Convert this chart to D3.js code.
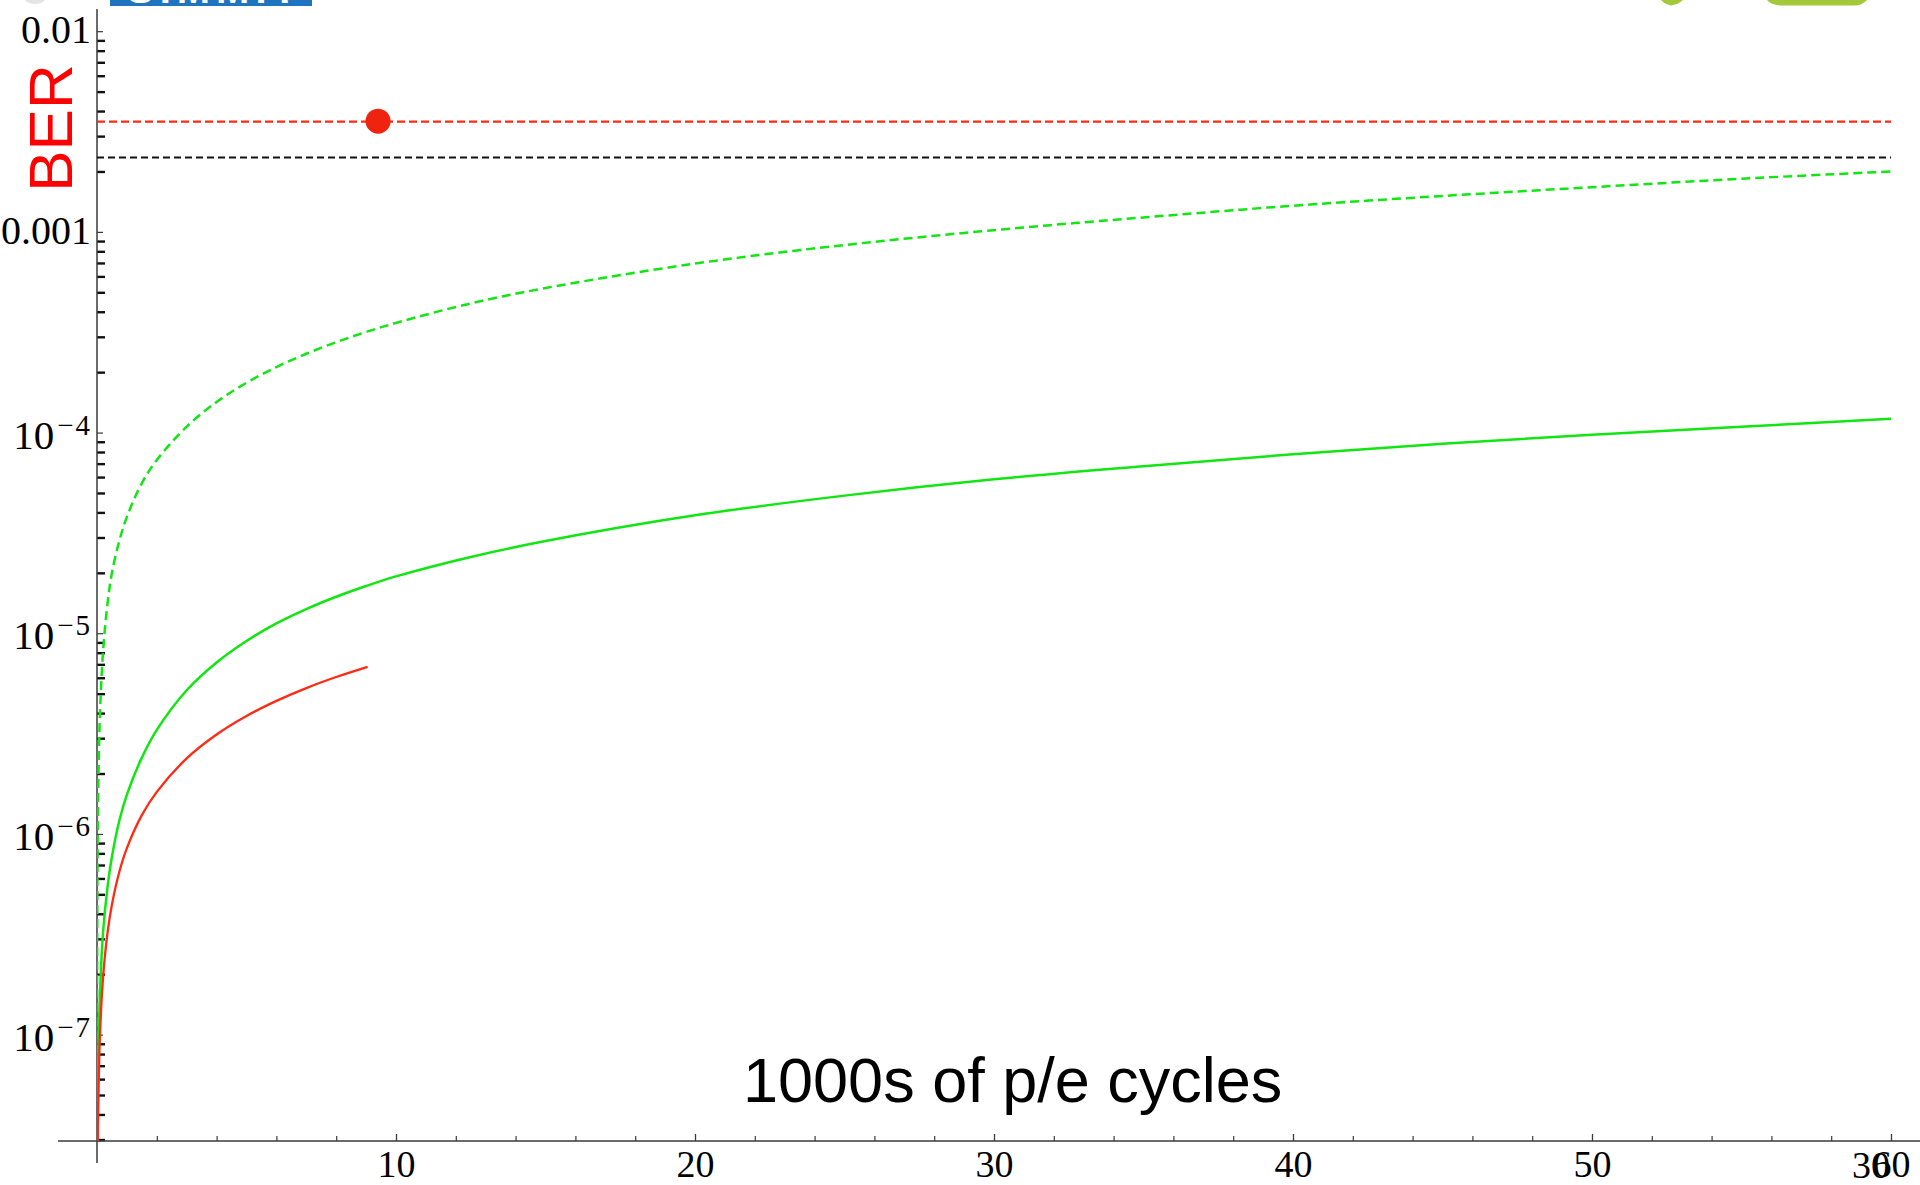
<!DOCTYPE html>
<html>
<head>
<meta charset="utf-8">
<script src="https://cdn.jsdelivr.net/npm/d3@7"></script>
<style>
  html, body { margin: 0; padding: 0; background: #fff; }
  svg { display: block; }
</style>
</head>
<body>
<svg id="chart" width="1920" height="1185"></svg>
<script>
// Sample positions along the p/e-cycle axis (thousands of cycles)
const cycles = [0.002, 0.005, 0.01, 0.02, 0.05, 0.1, 0.2, 0.35, 0.5, 0.75, 1, 1.5, 2, 3, 4, 5, 6, 7, 8, 9, 10,
                12.5, 15, 20, 25, 30, 35, 40, 45, 50, 55, 60];

// Upper green (dashed) BER curve
const berGreenDashed = [8e-8, 2e-7, 4e-7, 8e-7, 2e-6, 4e-6, 8e-6, 1.4e-5, 2.0e-5, 2.9e-5, 3.8e-5, 5.6e-5, 7.3e-5,
                        1.07e-4, 1.42e-4, 1.77e-4, 2.12e-4, 2.47e-4, 2.82e-4, 3.17e-4, 3.52e-4,
                        4.4e-4, 5.25e-4, 6.95e-4, 8.6e-4, 1.02e-3, 1.18e-3, 1.35e-3, 1.51e-3, 1.67e-3, 1.84e-3, 2.0e-3];

// Lower green (solid) BER curve
const berGreenSolid = [4e-9, 1e-8, 2e-8, 3.6e-8, 8.5e-8, 1.6e-7, 3.2e-7, 5.4e-7, 7.7e-7, 1.17e-6, 1.57e-6, 2.4e-6, 3.3e-6,
                       5.2e-6, 7.15e-6, 9.15e-6, 1.12e-5, 1.32e-5, 1.52e-5, 1.72e-5, 1.92e-5,
                       2.4e-5, 2.88e-5, 3.87e-5, 4.85e-5, 5.85e-5, 6.8e-5, 7.8e-5, 8.8e-5, 9.75e-5, 1.07e-4, 1.17e-4];

// Red (solid) BER curve, measured only up to ~9k cycles
const redCycles = [0.002, 0.005, 0.01, 0.02, 0.05, 0.1, 0.2, 0.35, 0.5, 0.75, 1, 1.5, 2, 3, 4, 5, 6, 7, 8, 9.05];
const berRed = [2.5e-9, 6e-9, 1.15e-8, 2.2e-8, 5.2e-8, 1.0e-7, 1.9e-7, 3.2e-7, 4.45e-7, 6.5e-7, 8.5e-7, 1.24e-6, 1.62e-6,
                2.38e-6, 3.13e-6, 3.87e-6, 4.6e-6, 5.33e-6, 6.05e-6, 6.8e-6];

// Horizontal BER limits and the marked point
const redLimit = 3.54e-3;
const blackLimit = 2.35e-3;
const markedPoint = [9.4, 3.56e-3];

// Axis ticks
const xMajorTicks = [10, 20, 30, 40, 50, 60];
const xMinorTicks = [2, 4, 6, 8, 12, 14, 16, 18, 22, 24, 26, 28, 32, 34, 36, 38, 42, 44, 46, 48, 52, 54, 56, 58];
const yDecades = [-2, -3, -4, -5, -6, -7];
const yPlainLabels = { "-2": "0.01", "-3": "0.001" };

const svg = d3.select("#chart");
const W = 1920;

const x = d3.scaleLinear().domain([0, 60]).range([97, 1891]);
const y = d3.scaleLog().domain([2.95e-8, 0.0129]).range([1141, 9]);

const GREEN = "#12e612";
const RED = "#ff2a14";

// --- slide decorations cut off at the top edge ---
const deco = svg.append("g");
deco.append("ellipse").attr("cx", 35).attr("cy", -3).attr("rx", 11).attr("ry", 7)
  .attr("fill", "#d8d8d8").attr("opacity", 0.7);
deco.append("clipPath").attr("id", "logoClip")
  .append("rect").attr("x", 110).attr("y", 0).attr("width", 202).attr("height", 6);
deco.append("rect").attr("x", 110).attr("y", 0).attr("width", 202).attr("height", 6).attr("fill", "#1f74bf");
deco.append("text").attr("clip-path", "url(#logoClip)")
  .attr("x", 127).attr("y", 2.5)
  .attr("font-family", "Liberation Sans, Arial, sans-serif").attr("font-weight", "bold")
  .attr("font-size", 40).attr("letter-spacing", 6).attr("fill", "#ffffff")
  .text("SIMMIT");
deco.append("path").attr("fill", "#a3c93a")
  .attr("d", "M1661,0 L1683,0 Q1678,4.5 1671,5.5 Q1664,4 1661,0 Z");
deco.append("path").attr("fill", "#a3c93a")
  .attr("d", "M1767,0 L1867,0 Q1862,5.5 1854,5.5 L1781,5.5 Q1771,5 1767,0 Z");

// --- axes ---
const axisColor = "#3a3a3a";

// x ticks (pointing up into the plot)
const xAxisMajor = svg.append("g").attr("transform", "translate(0,1141)")
  .call(d3.axisBottom(x).tickValues(xMajorTicks).tickSize(-7).tickPadding(0));
xAxisMajor.select(".domain").remove();
xAxisMajor.selectAll("line").attr("stroke", axisColor).attr("stroke-width", 1.3);
xAxisMajor.selectAll("text")
  .attr("y", 36).attr("dy", null)
  .attr("font-family", "Liberation Serif, Times New Roman, serif")
  .attr("font-size", 38).attr("fill", "#000");

const xAxisMinor = svg.append("g").attr("transform", "translate(0,1141)")
  .call(d3.axisBottom(x).tickValues(xMinorTicks).tickSize(-5).tickFormat(""));
xAxisMinor.select(".domain").remove();
xAxisMinor.selectAll("line").attr("stroke", axisColor).attr("stroke-width", 1.2);

// y ticks (pointing right into the plot)
const yMinorValues = [];
for (let e = -8; e <= -2; e++) {
  for (let k = 2; k <= 9; k++) {
    const v = k * Math.pow(10, e);
    if (v >= y.domain()[0] && v <= y.domain()[1]) yMinorValues.push(v);
  }
}
const yMajorValues = yDecades.map(e => Math.pow(10, e));

const yAxisMinor = svg.append("g").attr("transform", "translate(97,0)")
  .call(d3.axisLeft(y).tickValues(yMinorValues).tickSize(-8).tickFormat(""));
yAxisMinor.select(".domain").remove();
yAxisMinor.selectAll("line").attr("stroke", "#111").attr("stroke-width", 2.4);

const yAxisMajor = svg.append("g").attr("transform", "translate(97,0)")
  .call(d3.axisLeft(y).tickValues(yMajorValues).tickSize(-6).tickFormat(""));
yAxisMajor.select(".domain").remove();
yAxisMajor.selectAll("line").attr("stroke", axisColor).attr("stroke-width", 1.2);

// y tick labels: decimals for the top two decades, powers of ten below
const yLabels = svg.append("g")
  .attr("font-family", "Liberation Serif, Times New Roman, serif")
  .attr("fill", "#000").attr("text-anchor", "end");
yDecades.forEach(e => {
  const ty = y(Math.pow(10, e));
  if (yPlainLabels[e] !== undefined) {
    yLabels.append("text").attr("x", 91).attr("y", ty + 12)
      .attr("font-size", 40).text(yPlainLabels[e]);
  } else {
    const t = yLabels.append("text").attr("x", 92).attr("y", ty + 16).attr("font-size", 41);
    t.append("tspan").text("10");
    t.append("tspan").attr("font-size", 29).attr("dx", 3).attr("dy", -14)
      .attr("letter-spacing", 2).text("\u2212" + (-e));
  }
});

// axis lines
svg.append("line").attr("x1", 58).attr("x2", W).attr("y1", 1141).attr("y2", 1141)
  .attr("stroke", axisColor).attr("stroke-width", 1.5);
svg.append("line").attr("x1", 97).attr("x2", 97).attr("y1", 9).attr("y2", 1163)
  .attr("stroke", axisColor).attr("stroke-width", 1.5);

// --- data ---
svg.append("clipPath").attr("id", "plotClip")
  .append("rect").attr("x", 97).attr("y", 0).attr("width", 1800).attr("height", 1141);
const plot = svg.append("g").attr("clip-path", "url(#plotClip)");

const line = d3.line().x(d => x(d[0])).y(d => y(d[1])).curve(d3.curveCatmullRom.alpha(0.5));

// limits
plot.append("path").datum([[0, blackLimit], [60, blackLimit]])
  .attr("d", line).attr("fill", "none").attr("stroke", "#111")
  .attr("stroke-width", 2).attr("stroke-dasharray", "7,4");
plot.append("path").datum([[0, redLimit], [60, redLimit]])
  .attr("d", line).attr("fill", "none").attr("stroke", RED)
  .attr("stroke-width", 2.2).attr("stroke-dasharray", "8,4");

// curves
plot.append("path").datum(cycles.map((c, i) => [c, berGreenDashed[i]]))
  .attr("d", line).attr("fill", "none").attr("stroke", GREEN)
  .attr("stroke-width", 2.5).attr("stroke-dasharray", "9,5");
plot.append("path").datum(cycles.map((c, i) => [c, berGreenSolid[i]]))
  .attr("d", line).attr("fill", "none").attr("stroke", GREEN).attr("stroke-width", 2.5);
plot.append("path").datum(redCycles.map((c, i) => [c, berRed[i]]))
  .attr("d", line).attr("fill", "none").attr("stroke", RED).attr("stroke-width", 2.3);

// marked point on the red limit
svg.append("circle").attr("cx", x(markedPoint[0])).attr("cy", y(markedPoint[1]))
  .attr("r", 12.5).attr("fill", "#ef2410");

// --- titles ---
svg.append("text").attr("transform", "translate(72,128) rotate(-90)")
  .attr("text-anchor", "middle")
  .attr("font-family", "Liberation Sans, Arial, sans-serif")
  .attr("font-size", 62).attr("fill", "#ff0000").text("BER");

svg.append("text").attr("x", 743).attr("y", 1102)
  .attr("font-family", "Liberation Sans, Arial, sans-serif")
  .attr("font-size", 63).attr("fill", "#000").text("1000s of p/e cycles");

// slide number in the corner
svg.append("text").attr("x", 1852).attr("y", 1178)
  .attr("font-family", "Liberation Serif, Times New Roman, serif")
  .attr("font-size", 38).attr("fill", "#000").text("30");
</script>
</body>
</html>
